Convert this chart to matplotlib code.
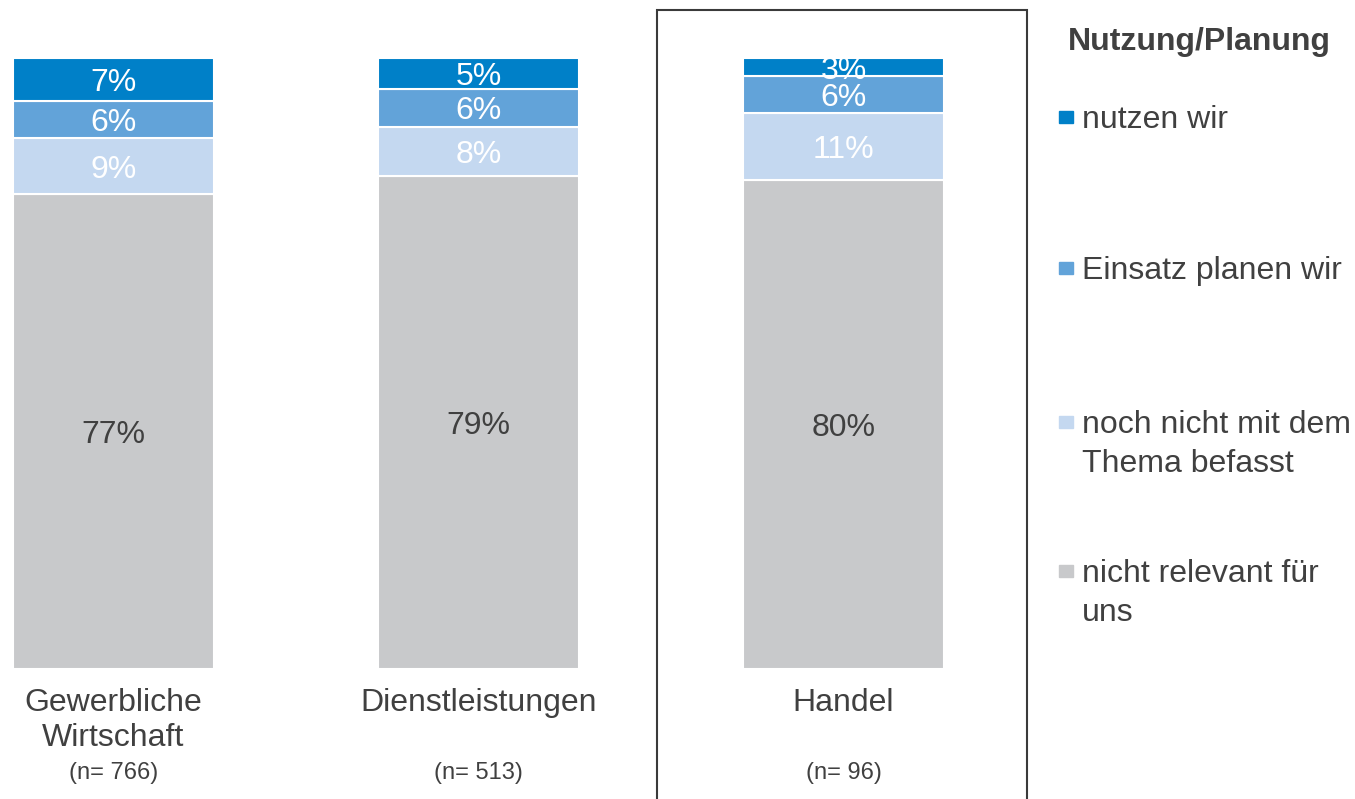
import matplotlib
matplotlib.use('Agg')
import matplotlib.pyplot as plt
from matplotlib.patches import Rectangle
import numpy as np

plt.rcParams['font.family'] = ['Liberation Sans', 'DejaVu Sans']

categories = ['Gewerbliche\nWirtschaft', 'Dienstleistungen', 'Handel']
sample_sizes = ['(n= 766)', '(n= 513)', '(n= 96)']
legend_title = 'Nutzung/Planung'

# stacked from bottom to top
series_names = ['nicht relevant für\nuns', 'noch nicht mit dem\nThema befasst',
                'Einsatz planen wir', 'nutzen wir']
nicht_relevant = [77, 79, 80]
nicht_befasst = [9, 8, 11]
einsatz_planen = [6, 6, 6]
nutzen_wir = [7, 5, 3]

colors = ['#C8C9CB', '#C4D8F0', '#62A3D9', '#0080C8']
label_colors = ['#404040', 'white', 'white', 'white']
text_color = '#404040'

W, H = 1355, 799
fig = plt.figure(figsize=(W / 100, H / 100), dpi=100)
ax = fig.add_axes([0, 0, 1, 1])
ax.axis('off')

# pixel layout: bar centres 113.5 + 365*i, base at y=669, top (100%) at y=58
px_per_x = 365.
px_per_y = (669 - 58) / 100.
ax.set_xlim(-113.5 / px_per_x, (W - 113.5) / px_per_x)
ax.set_ylim(-(H - 669) / px_per_y, 669 / px_per_y)

data = np.array([nicht_relevant, nicht_befasst, einsatz_planen, nutzen_wir], dtype=float)
shares = data / data.sum(axis=0) * 100.
x = np.arange(len(categories))
bottom = np.zeros(len(categories))
for k in range(len(series_names)):
    ax.bar(x, shares[k], bottom=bottom, width=201 / px_per_x, color=colors[k],
           edgecolor='white', linewidth=1.5)
    for i in range(len(categories)):
        ax.text(x[i], bottom[i] + shares[k][i] / 2, '%d%%' % data[k][i],
                ha='center', va='center_baseline', fontsize=23, color=label_colors[k])
    bottom += shares[k]

for i in range(len(categories)):
    ax.text(x[i], -19 / px_per_y, categories[i], ha='center', va='top',
            fontsize=23, color=text_color, linespacing=1.2)
    ax.text(x[i], -104 / px_per_y, sample_sizes[i], ha='center', va='center',
            fontsize=17, color=text_color)

# frame around "Handel"
x0 = (657 - 113.5) / px_per_x
x1 = (1027 - 113.5) / px_per_x
y1 = (669 - 10) / px_per_y
ax.add_patch(Rectangle((x0, -40), x1 - x0, y1 + 40, fill=False,
                       edgecolor='#3A3A3A', linewidth=1.5))

# legend, fixed slots like the source slide
fig.text(1068 / W, 1 - 50 / H, legend_title, fontsize=23, fontweight='bold',
         color=text_color, ha='left', va='baseline')
slot_baseline = [128, 279, 433, 582]
for j, k in enumerate(range(len(series_names) - 1, -1, -1)):
    yb = slot_baseline[j]
    fig.patches.append(Rectangle((1059 / W, 1 - (yb - 5) / H), 14 / W, 12 / H,
                                 transform=fig.transFigure, color=colors[k]))
    fig.text(1082 / W, 1 - (yb - 23) / H, series_names[k], fontsize=23,
             color=text_color, ha='left', va='top', linespacing=1.38)

plt.savefig('out.png', dpi=100)
